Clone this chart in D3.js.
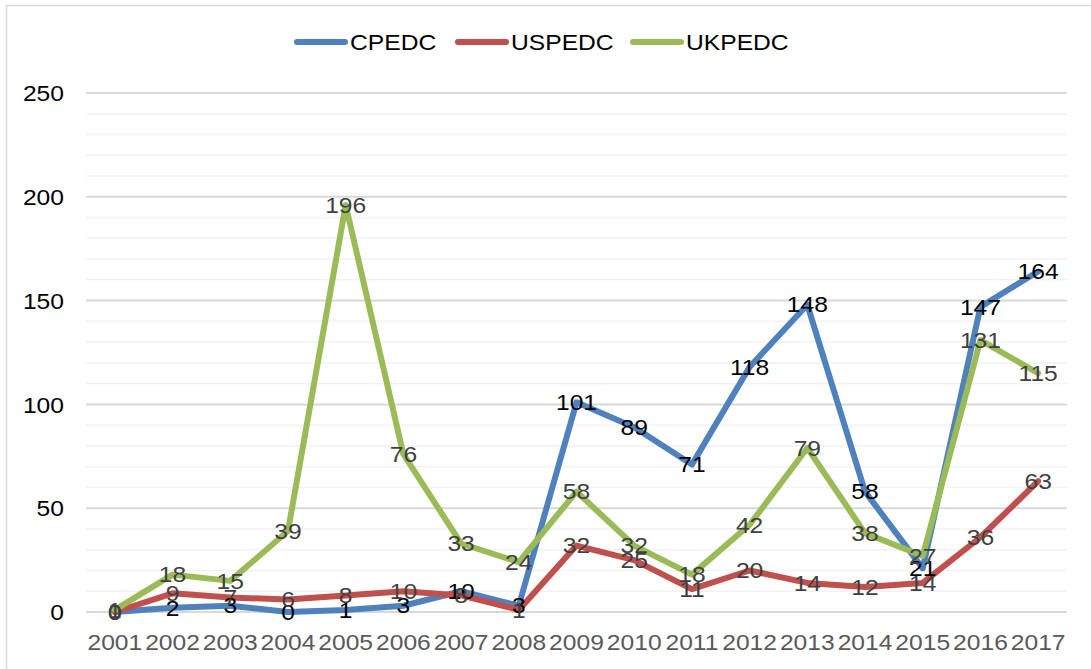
<!DOCTYPE html>
<html><head><meta charset="utf-8">
<script src="https://cdn.jsdelivr.net/npm/d3@7"></script>
<style>body{margin:0;background:#fff}svg{display:block}text{font-family:"Liberation Sans",Arial,sans-serif}</style>
</head><body>
<svg id="c" width="1091" height="669"></svg>
<script>
const years = ["2001","2002","2003","2004","2005","2006","2007","2008","2009","2010","2011","2012","2013","2014","2015","2016","2017"];
const CPEDC  = [0,2,3,0,1,3,10,3,101,89,71,118,148,58,21,147,164];
const USPEDC = [0,9,7,6,8,10,8,1,32,25,11,20,14,12,14,36,63];
const UKPEDC = [1,18,15,39,196,76,33,24,58,32,18,42,79,38,27,131,115];
const seriesNames = ["CPEDC","USPEDC","UKPEDC"];
const yTicks = [0,50,100,150,200,250];

const SX = 1.12; // horizontal text stretch
const series = [
  {name:seriesNames[0], values:CPEDC, color:"#4f81bd", label:"#000000"},
  {name:seriesNames[1], values:USPEDC, color:"#c0504d", label:"#404040"},
  {name:seriesNames[2], values:UKPEDC, color:"#9bbb59", label:"#404040"}
];

const svg = d3.select("#c");
// outer border
svg.append("rect").attr("x",6.5).attr("y",5.5).attr("width",1100).attr("height",700)
  .attr("fill","none").attr("stroke","#d9d9d9").attr("stroke-width",1.5);

const x = d3.scaleBand().domain(years).range([86,1067]);
const y = d3.scaleLinear().domain([0,250]).range([612,93]);

// gridlines
const g = svg.append("g");
g.selectAll("line").data(d3.range(0,251,10)).join("line")
  .attr("x1",86).attr("x2",1067).attr("y1",d=>y(d)).attr("y2",d=>y(d))
  .attr("stroke",d=>d%50===0?"#d9d9d9":"#f2f2f2").attr("stroke-width",d=>d%50===0?2:1.5);

// y axis
const yAxis = d3.axisLeft(y).tickValues(yTicks).tickSize(0).tickPadding(0);
const ya = svg.append("g").attr("transform","translate(64,0)").call(yAxis);
ya.select(".domain").remove();
ya.selectAll("text").attr("font-size",22).attr("fill","#000").attr("dy","0.35em")
  .attr("transform",`scale(${SX},1)`);

// x axis
const xAxis = d3.axisBottom(x).tickSize(0).tickPadding(0);
const xa = svg.append("g").attr("transform","translate(0,634)").call(xAxis);
xa.select(".domain").remove();
xa.selectAll("text").attr("font-size",22).attr("fill","#595959").attr("dy","0.71em")
  .attr("transform",`scale(${SX},1)`);

const cx = d => x(d) + x.bandwidth()/2;
const line = d3.line().x((d,i)=>cx(years[i])).y(d=>y(d));

svg.append("g").selectAll("path").data(series).join("path")
  .attr("d",s=>line(s.values)).attr("fill","none").attr("stroke",s=>s.color)
  .attr("stroke-width",6).attr("stroke-linejoin","round").attr("stroke-linecap","round");

// data labels
series.forEach(s=>{
  svg.append("g").selectAll("text").data(s.values).join("text")
    .attr("transform",(d,i)=>`translate(${cx(years[i])},${y(d)}) scale(${SX},1)`)
    .attr("dy","0.35em")
    .attr("text-anchor","middle").attr("font-size",22).attr("fill",s.label)
    .text(d=>d);
});

// legend
const legX = [294,455,630];
const lg = svg.append("g");
series.forEach((s,i)=>{
  lg.append("line").attr("x1",legX[i]+3).attr("x2",legX[i]+51).attr("y1",42).attr("y2",42)
    .attr("stroke",s.color).attr("stroke-width",6).attr("stroke-linecap","round");
  lg.append("text").attr("transform",`translate(${legX[i]+56},42) scale(${SX},1)`).attr("dy","0.35em")
    .attr("font-size",22).attr("fill","#000").text(s.name);
});
</script>
</body></html>
